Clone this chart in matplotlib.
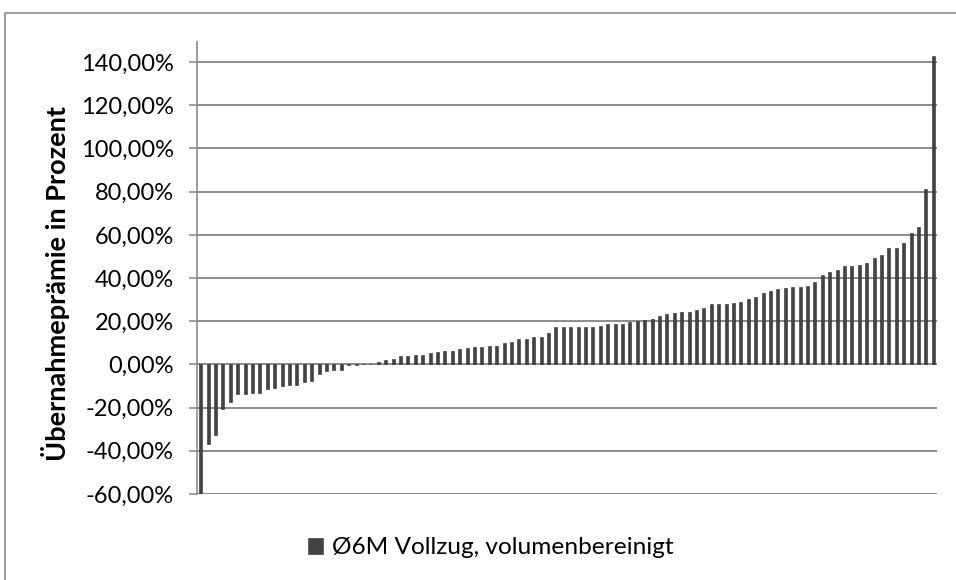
import matplotlib
matplotlib.use("Agg")
import matplotlib.pyplot as plt
from matplotlib.patches import Rectangle
from matplotlib.ticker import FuncFormatter, FixedLocator

# Takeover premium per transaction, sorted ascending (percent)
premiums = [
    -60.0, -36.7, -32.7, -20.5, -17.3, -13.9, -13.6, -13.1, -13.1, -11.6,
    -11.1, -10.0, -9.7, -9.3, -8.2, -7.7, -4.3, -3.1, -2.8, -2.4,
    -0.4, -0.3, 0.1, 0.3, 1.1, 2.0, 2.5, 3.7, 3.7, 4.3,
    4.3, 5.2, 5.7, 6.2, 6.2, 7.1, 7.6, 8.0, 8.0, 8.5,
    8.5, 9.9, 10.3, 11.8, 11.8, 12.5, 12.9, 14.5, 17.1, 17.1,
    17.1, 17.1, 17.1, 17.5, 18.0, 18.9, 18.9, 18.9, 19.5, 20.3,
    20.8, 21.2, 22.6, 23.5, 24.0, 24.5, 24.5, 25.4, 26.0, 27.8,
    27.8, 27.9, 28.4, 28.8, 30.2, 31.3, 33.0, 33.9, 34.8, 35.3,
    35.7, 35.7, 36.2, 38.0, 41.3, 42.6, 43.6, 45.4, 45.4, 45.9,
    46.8, 49.1, 50.9, 53.7, 53.7, 56.4, 61.0, 63.8, 81.3, 142.8,
]
y_ticks = [-60, -40, -20, 0, 20, 40, 60, 80, 100, 120, 140]
series_name = "Ø6M Vollzug, volumenbereinigt"
y_label = "Übernahmeprämie in Prozent"

plt.rcParams["font.family"] = ["Lato", "DejaVu Sans"]

W, H = 956, 580
fig = plt.figure(figsize=(W / 100, H / 100), dpi=100)

# outer chart frame
fig.patches.append(Rectangle((5 / W, -0.2), 1.2, 1.2 - 13 / H,
                             transform=fig.transFigure, fill=False,
                             edgecolor="#8a8a8a", linewidth=1.2))

left, right, top, bottom = 197, 937, 42, 494
ax = fig.add_axes([left / W, 1 - bottom / H, (right - left) / W, (bottom - top) / H])

x = list(range(len(premiums)))
bars = ax.bar(x, premiums, width=0.42, color="#434343", edgecolor="#2e2e2e",
              linewidth=0.4, label=series_name, zorder=3)

ax.set_xlim(-0.5, len(premiums) - 0.5)
ax.set_ylim(-60, 149.3)
ax.yaxis.set_major_locator(FixedLocator(y_ticks))
ax.yaxis.set_major_formatter(FuncFormatter(lambda v, p: f"{v:.2f}%".replace(".", ",")))
ax.set_xticks([])

for v in y_ticks:
    ax.axhline(v, color="#8c8c8c", linewidth=1.4, zorder=1)

for s in ["top", "right", "bottom"]:
    ax.spines[s].set_visible(False)
ax.spines["left"].set_color("#8c8c8c")
ax.spines["left"].set_linewidth(1.2)
ax.tick_params(axis="y", direction="out", length=5.8, width=1.2, color="#8c8c8c",
               labelsize=17, pad=11, labelcolor="black")

ax.set_ylabel(y_label, fontsize=19.5, fontweight="bold")
ax.yaxis.set_label_coords(-0.172, 0.465)

fig.legend(handles=[bars], labels=[series_name], loc="center",
           bbox_to_anchor=(491 / W, 1 - 548 / H), frameon=False, fontsize=17.6,
           handlelength=0.62, handleheight=0.62, handletextpad=0.35)

fig.savefig("out.png", dpi=100)
